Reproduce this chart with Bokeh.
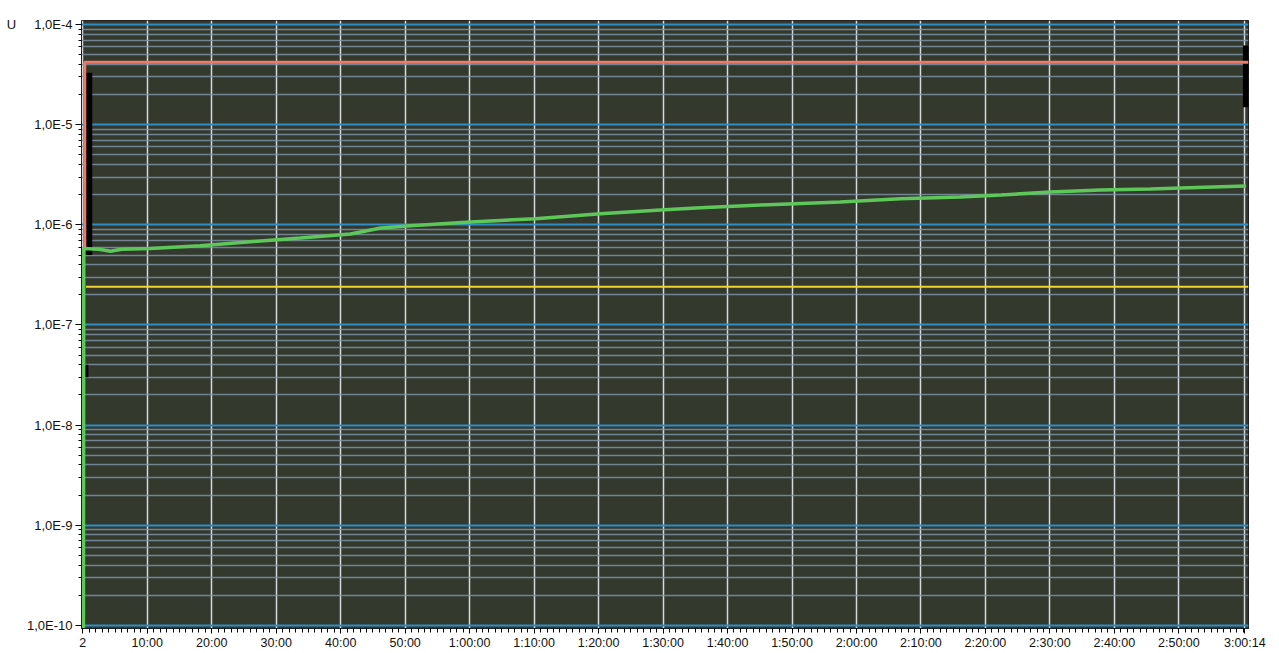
from bokeh.plotting import figure
from bokeh.models import FixedTicker, Range1d
from bokeh.embed import file_html
from bokeh.resources import INLINE

# ---- data ----
x_tick_minutes = [0, 10, 20, 30, 40, 50, 60, 70, 80, 90, 100, 110, 120, 130, 140, 150, 160, 170, 180.23]
x_tick_labels = ["2", "10:00", "20:00", "30:00", "40:00", "50:00", "1:00:00", "1:10:00", "1:20:00",
                 "1:30:00", "1:40:00", "1:50:00", "2:00:00", "2:10:00", "2:20:00", "2:30:00",
                 "2:40:00", "2:50:00", "3:00:14"]
y_tick_values = [1e-10, 1e-9, 1e-8, 1e-7, 1e-6, 1e-5, 1e-4]
y_tick_labels = ["1,0E-10", "1,0E-9", "1,0E-8", "1,0E-7", "1,0E-6", "1,0E-5", "1,0E-4"]
y_unit = "U"

green_t = [0.1, 0.15, 2.5, 4.3, 6.0, 10.5, 18.2, 26.0, 33.7, 41.5, 46.2, 50.8, 60.1, 70.2, 80.3,
           89.6, 95.8, 105.1, 117.5, 126.8, 136.1, 142.4, 150.1, 157.9, 165.6, 170.3, 180.4]
green_v = [0.8e-10, 5.8e-7, 5.7e-7, 5.45e-7, 5.7e-7, 5.8e-7, 6.2e-7, 6.8e-7, 7.4e-7, 8.1e-7, 9.3e-7,
           9.8e-7, 1.07e-6, 1.15e-6, 1.29e-6, 1.41e-6, 1.48e-6, 1.58e-6, 1.69e-6, 1.82e-6, 1.90e-6,
           1.99e-6, 2.13e-6, 2.23e-6, 2.28e-6, 2.33e-6, 2.44e-6]

red_t = [0.3, 0.3, 180.8]
red_v = [6.0e-7, 4.2e-5, 4.2e-5]

yellow_t = [0.5, 180.8]
yellow_v = [2.41e-7, 2.41e-7]

black_t = [[1.0, 1.0], [0.4, 0.4], [180.4, 180.4]]
black_v = [[3.3e-5, 5.0e-7], [4.0e-8, 3.0e-8], [6.2e-5, 1.5e-5]]

# ---- figure ----
p = figure(width=1275, height=652, y_axis_type="log",
           x_range=Range1d(-0.2, 180.8), y_range=Range1d(0.93e-10, 1.1e-4),
           output_backend="svg", toolbar_location=None,
           min_border_left=81, min_border_right=27, min_border_top=20, min_border_bottom=22)

p.background_fill_color = "#33392d"
p.border_fill_color = "white"
p.outline_line_color = "#202020"

# y axis
y_minor = []
for e in range(-10, -4):
    for k in range(2, 10):
        y_minor.append(k * 10.0 ** e)
p.yaxis.ticker = FixedTicker(ticks=y_tick_values, minor_ticks=y_minor)
overrides = {v: l for v, l in zip(y_tick_values, y_tick_labels)}
overrides[1e-4] = y_unit + "\u00a0" * 5 + y_tick_labels[-1]
p.yaxis.major_label_overrides = overrides
p.yaxis.major_label_text_font = "Liberation Sans"
p.yaxis.major_label_text_font_size = "13px"
p.yaxis.major_label_text_color = "#111111"
p.yaxis.major_tick_out = 6
p.yaxis.major_tick_in = 0
p.yaxis.minor_tick_out = 3
p.yaxis.minor_tick_in = 0
p.yaxis.major_label_standoff = 3
p.yaxis.axis_line_color = "#202020"

# x axis
x_minor = [float(m) for m in range(0, 181)]
p.xaxis.ticker = FixedTicker(ticks=x_tick_minutes, minor_ticks=x_minor)
p.xaxis.major_label_overrides = {v: l for v, l in zip(x_tick_minutes, x_tick_labels)}
p.xaxis.major_label_text_font = "Liberation Sans"
p.xaxis.major_label_text_font_size = "12.5px"
p.xaxis.major_label_text_color = "#111111"
p.xaxis.major_tick_out = 5
p.xaxis.major_tick_in = 0
p.xaxis.minor_tick_out = 4
p.xaxis.minor_tick_in = 0
p.xaxis.major_label_standoff = 2
p.xaxis.axis_line_color = "#202020"

# grids
p.ygrid.grid_line_color = "#2f8ec6"
p.ygrid.grid_line_width = 2
p.ygrid.minor_grid_line_color = "#8296ad"
p.ygrid.minor_grid_line_alpha = 0.8
p.ygrid.minor_grid_line_width = 1.5
p.xgrid.grid_line_color = "#d6dadd"
p.xgrid.grid_line_width = 1.5

# series
p.multi_line(black_t, black_v, line_color="black", line_width=6)
p.line(red_t, red_v, line_color="#f27a62", line_width=3)
p.line(green_t, green_v, line_color="#5ec75a", line_width=3.5)
p.line(yellow_t, yellow_v, line_color="#f2d330", line_width=2)

open("out.html", "w").write(file_html(p, INLINE))
